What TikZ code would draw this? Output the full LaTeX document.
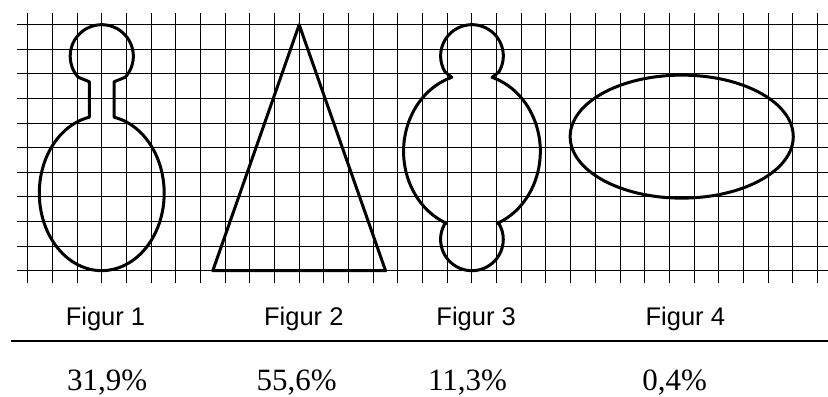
\documentclass[tikz,border=0pt]{standalone}
\usepackage{fontspec}
\setmainfont{Liberation Serif}
\setsansfont{Liberation Sans}
\begin{document}
\begin{tikzpicture}[x=24.68pt,y=24.6pt,
  gridline/.style={line width=1pt,black},
  figline/.style={line width=3pt,line join=round,black},
  ruleline/.style={line width=2.2pt,black},
  figlabel/.style={font=\sffamily\fontsize{25.5}{28}\selectfont,inner sep=0pt,anchor=base},
  pctlabel/.style={font=\rmfamily\fontsize{31}{34}\selectfont,inner sep=0pt,anchor=base}]
\useasboundingbox (-1.1224,-5.134) rectangle (32.427,11.004);
\fill[white] (-1.1224,-5.134) rectangle (32.427,11.004);
% grid
\foreach \y in {0,...,10} \draw[gridline] (-0.446,\y) -- (32.427,\y);
\foreach \x in {0,...,32} \draw[gridline] (\x,-0.512) -- (\x,10.48);
% Figure 1
\draw[figline] (3.5,7.68) -- (3.951,7.863)
  arc[start angle=-42,end angle=222,radius=1.28]
  -- (2.5,7.68) -- (2.5,6.24)
  arc[start angle=101.4,end angle=438.6,x radius=2.53,y radius=3.15]
  -- cycle;
% Figure 2
\draw[figline] (7.5,0) -- (11,10) -- (14.5,0) -- cycle;
% Figure 3
\draw[figline] (18.819,7.859) -- (19.089,8.076)
  arc[start angle=-31,end angle=211,radius=1.27]
  -- (17.181,7.859)
  arc[start angle=107.2,end angle=248.4,x radius=2.77,y radius=3.15]
  -- (16.923,1.943)
  arc[start angle=148,end angle=392,radius=1.27]
  -- (19.02,1.921)
  arc[start angle=291.6,end angle=432.8,x radius=2.77,y radius=3.15]
  -- cycle;
% Figure 4
\draw[figline] (26.5,5.45) ellipse[x radius=4.52,y radius=2.5];
% labels
\node[figlabel] (f1) at (3.152,-2.236) {Figur 1};
\node[figlabel] (f2) at (11.187,-2.236) {Figur 2};
\node[figlabel] (f3) at (18.17,-2.236) {Figur 3};
\node[figlabel] (f4) at (26.645,-2.236) {Figur 4};
\draw[ruleline] (-0.677,-2.858) -- (32.427,-2.858);
\node[pctlabel] (p1) at (3.221,-4.87) {31,9\%};
\node[pctlabel] (p2) at (10.9,-4.87) {55,6\%};
\node[pctlabel] (p3) at (17.82,-4.87) {11,3\%};
\node[pctlabel] (p4) at (26.21,-4.87) {0,4\%};
\end{tikzpicture}
\end{document}
